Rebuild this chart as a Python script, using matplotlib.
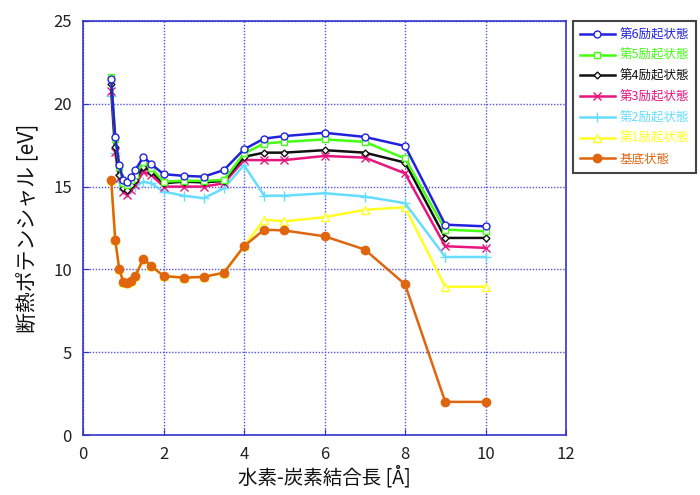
import matplotlib
matplotlib.use("Agg")
import matplotlib.pyplot as plt

plt.rcParams['font.family'] = ['Noto Sans CJK JP', 'DejaVu Sans']

# bond length [Å]
bond_length = [0.7, 0.8, 0.9, 1.0, 1.1, 1.2, 1.3, 1.5, 1.7, 2.0, 2.5, 3.0,
               3.5, 4.0, 4.5, 5.0, 6.0, 7.0, 8.0, 9.0, 10.0]

# adiabatic potentials [eV]
excited6 = [21.5, 18.0, 16.3, 15.4, 15.3, 15.6, 16.0, 16.8, 16.35, 15.75, 15.65, 15.6,
            16.0, 17.25, 17.9, 18.05, 18.25, 18.0, 17.45, 12.7, 12.6]
excited5 = [21.6, 17.9, 16.2, 15.2, 15.1, 15.4, 15.7, 16.5, 16.1, 15.3, 15.35, 15.35,
            15.4, 17.0, 17.6, 17.7, 17.85, 17.7, 16.7, 12.4, 12.3]
excited4 = [21.2, 17.4, 15.7, 14.9, 14.8, 15.1, 15.4, 16.2, 15.9, 15.2, 15.3, 15.25,
            15.35, 16.8, 17.05, 17.05, 17.2, 17.05, 16.45, 11.9, 11.9]
excited3 = [20.8, 17.1, 15.5, 14.7, 14.5, 14.8, 15.1, 15.9, 15.7, 15.0, 15.0, 15.0,
            15.2, 16.6, 16.6, 16.6, 16.85, 16.75, 15.8, 11.4, 11.3]
excited2 = [20.5, 17.0, 15.3, 14.8, 14.6, 14.9, 15.0, 15.3, 15.2, 14.7, 14.45, 14.3,
            14.9, 16.3, 14.45, 14.45, 14.6, 14.4, 14.0, 10.75, 10.75]
excited1 = [15.4, 11.8, 10.0, 9.25, 9.15, 9.3, 9.6, 10.65, 10.2, 9.6, 9.5, 9.55,
            9.8, 11.4, 13.0, 12.9, 13.15, 13.6, 13.75, 8.95, 8.95]
ground = [15.4, 11.8, 10.0, 9.25, 9.15, 9.3, 9.6, 10.65, 10.2, 9.6, 9.5, 9.55,
          9.8, 11.4, 12.4, 12.35, 12.0, 11.2, 9.1, 2.0, 2.0]

labels = ['第6励起状態', '第5励起状態', '第4励起状態', '第3励起状態',
          '第2励起状態', '第1励起状態', '基底状態']
series = [excited6, excited5, excited4, excited3, excited2, excited1, ground]
colors = ['#2222dd', '#44ff11', '#111111', '#e8157f', '#66ddff', '#ffff22', '#e0650f']
markers = ['o', 's', 'D', 'x', '+', '^', 'o']
sizes = [5, 5, 3.5, 6, 7, 5.5, 6]

fig = plt.figure(figsize=(7, 4.95), dpi=100)
ax = fig.add_axes([0.1186, 0.1212, 0.69, 0.8364])

lines = []
for i in range(len(series)):
    face = colors[i] if i == 6 else 'white'
    if markers[i] in ('x', '+'):
        face = colors[i]
    ln, = ax.plot(bond_length, series[i], color=colors[i], lw=1.8,
                  marker=markers[i], ms=sizes[i], mfc=face, mec=colors[i],
                  mew=1.0, zorder=10 - i + (5 if i == 6 else 0))
    lines.append(ln)

ax.set_xlim(0, 12)
ax.set_ylim(0, 25)
ax.set_xticks(range(0, 13, 2))
ax.set_yticks(range(0, 26, 5))
ax.grid(True, color='#5555dd', linestyle=(0, (1, 1.2)), lw=1.0)
for sp in ax.spines.values():
    sp.set_color('#3333cc')
    sp.set_linewidth(1.2)
ax.tick_params(direction='in', length=4, color='#3333cc', labelsize=12,
               labelcolor='#222222', pad=8)

ax.set_xlabel('水素-炭素結合長 [Å]', fontsize=14, color='#111111', labelpad=2)
ax.set_ylabel('断熱ポテンシャル [eV]', fontsize=15, color='#111111', labelpad=10)

leg = fig.legend(lines, labels, loc='upper left', bbox_to_anchor=(0.815, 0.962),
                 fontsize=9, handlelength=2.8, labelspacing=0.62,
                 fancybox=False, framealpha=1, borderpad=0.55, handletextpad=0.4,
                 borderaxespad=0.2)
leg.get_frame().set_edgecolor('#444444')
leg.get_frame().set_linewidth(1.5)
for txt, c in zip(leg.get_texts(), colors):
    txt.set_color(c)

fig.savefig('out.png', dpi=100)
